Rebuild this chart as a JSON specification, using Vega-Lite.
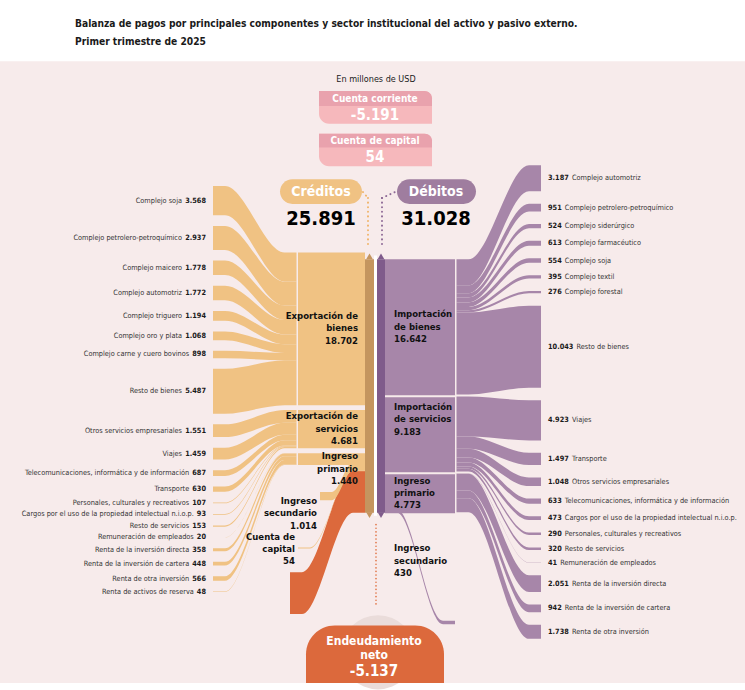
{
"$schema":"https://vega.github.io/schema/vega-lite/v6.json",
"width":745,"height":690,
"autosize":{"type":"fit","contains":"padding"},
"padding":0,
"background":"#ffffff",
"config":{"view":{"stroke":null},"text":{"font":"DejaVu Sans Condensed, sans-serif"}},
"datasets":{
"items":[
{"side":"C","grp":1,"ord":1,"name":"Complejo soja","value":3568},
{"side":"C","grp":1,"ord":2,"name":"Complejo petrolero-petroquímico","value":2937},
{"side":"C","grp":1,"ord":3,"name":"Complejo maicero","value":1778},
{"side":"C","grp":1,"ord":4,"name":"Complejo automotriz","value":1772},
{"side":"C","grp":1,"ord":5,"name":"Complejo triguero","value":1194},
{"side":"C","grp":1,"ord":6,"name":"Complejo oro y plata","value":1068},
{"side":"C","grp":1,"ord":7,"name":"Complejo carne y cuero bovinos","value":898},
{"side":"C","grp":1,"ord":8,"name":"Resto de bienes","value":5487},
{"side":"C","grp":2,"ord":9,"name":"Otros servicios empresariales","value":1551},
{"side":"C","grp":2,"ord":10,"name":"Viajes","value":1459},
{"side":"C","grp":2,"ord":11,"name":"Telecomunicaciones, informática y de información","value":687},
{"side":"C","grp":2,"ord":12,"name":"Transporte","value":630},
{"side":"C","grp":2,"ord":13,"name":"Personales, culturales y recreativos","value":107},
{"side":"C","grp":2,"ord":14,"name":"Cargos por el uso de la propiedad intelectual n.i.o.p.","value":93},
{"side":"C","grp":2,"ord":15,"name":"Resto de servicios","value":153},
{"side":"C","grp":3,"ord":16,"name":"Remuneración de empleados","value":20},
{"side":"C","grp":3,"ord":17,"name":"Renta de la inversión directa","value":358},
{"side":"C","grp":3,"ord":18,"name":"Renta de la inversión de cartera","value":448},
{"side":"C","grp":3,"ord":19,"name":"Renta de otra inversión","value":566},
{"side":"C","grp":3,"ord":20,"name":"Renta de activos de reserva","value":48},
{"side":"D","grp":1,"ord":1,"name":"Complejo automotriz","value":3187},
{"side":"D","grp":1,"ord":2,"name":"Complejo petrolero-petroquímico","value":951},
{"side":"D","grp":1,"ord":3,"name":"Complejo siderúrgico","value":524},
{"side":"D","grp":1,"ord":4,"name":"Complejo farmacéutico","value":613},
{"side":"D","grp":1,"ord":5,"name":"Complejo soja","value":554},
{"side":"D","grp":1,"ord":6,"name":"Complejo textil","value":395},
{"side":"D","grp":1,"ord":7,"name":"Complejo forestal","value":276},
{"side":"D","grp":1,"ord":8,"name":"Resto de bienes","value":10043},
{"side":"D","grp":2,"ord":9,"name":"Viajes","value":4923},
{"side":"D","grp":2,"ord":10,"name":"Transporte","value":1497},
{"side":"D","grp":2,"ord":11,"name":"Otros servicios empresariales","value":1048},
{"side":"D","grp":2,"ord":12,"name":"Telecomunicaciones, informática y de información","value":633},
{"side":"D","grp":2,"ord":13,"name":"Cargos por el uso de la propiedad intelectual n.i.o.p.","value":473},
{"side":"D","grp":2,"ord":14,"name":"Personales, culturales y recreativos","value":290},
{"side":"D","grp":2,"ord":15,"name":"Resto de servicios","value":320},
{"side":"D","grp":3,"ord":16,"name":"Remuneración de empleados","value":41},
{"side":"D","grp":3,"ord":17,"name":"Renta de la inversión directa","value":2051},
{"side":"D","grp":3,"ord":18,"name":"Renta de la inversión de cartera","value":942},
{"side":"D","grp":3,"ord":19,"name":"Renta de otra inversión","value":1738}
],
"groups":[
{"side":"C","grp":1,"name":"Exportación de bienes","lbl":"Exportación de\nbienes","value":18702},
{"side":"C","grp":2,"name":"Exportación de servicios","lbl":"Exportación de\nservicios","value":4681},
{"side":"C","grp":3,"name":"Ingreso primario","lbl":"Ingreso\nprimario","value":1440},
{"side":"C","grp":4,"name":"Ingreso secundario","lbl":"Ingreso\nsecundario","value":1014},
{"side":"C","grp":5,"name":"Cuenta de capital","lbl":"Cuenta de\ncapital","value":54},
{"side":"C","grp":6,"name":"Endeudamiento neto","lbl":"Endeudamiento\nneto","value":5137},
{"side":"D","grp":1,"name":"Importación de bienes","lbl":"Importación\nde bienes","value":16642},
{"side":"D","grp":2,"name":"Importación de servicios","lbl":"Importación\nde servicios","value":9183},
{"side":"D","grp":3,"name":"Ingreso primario","lbl":"Ingreso\nprimario","value":4773},
{"side":"D","grp":4,"name":"Ingreso secundario","lbl":"Ingreso\nsecundario","value":430}
]
},
"layer":[
{"data":{"values":[{}]},"mark":{"type":"rect","color":"#f7ebeb"},
 "encoding":{"x":{"datum":0,"type":"quantitative","scale":{"domain":[0,745],"nice":false,"zero":false},"axis":null},"x2":{"datum":745},
 "y":{"datum":62,"type":"quantitative","scale":{"domain":[0,690],"nice":false,"zero":false,"reverse":true},"axis":null},"y2":{"datum":690}}},

{"data":{"name":"items"},
 "transform":[
  {"window":[{"op":"sum","field":"value","as":"cum"},{"op":"row_number","as":"idx"}],"sort":[{"field":"ord"}],"groupby":["side"],"frame":[null,0]},
  {"window":[{"op":"sum","field":"value","as":"gcum"}],"sort":[{"field":"ord"}],"groupby":["side","grp"],"frame":[null,0]},
  {"calculate":"datum.cum - datum.value","as":"before"},
  {"joinaggregate":[{"op":"min","field":"before","as":"gbefore"}],"groupby":["side","grp"]},
  {"calculate":"datum.side == 'C' ? 188 + datum.before*0.00825 + (datum.idx-1)*10.8 : 167 + datum.before*0.00825 + (datum.idx-1)*12.6","as":"iy0"},
  {"calculate":"datum.iy0 + datum.value*0.00825","as":"iy1"},
  {"calculate":"datum.side == 'C' ? 255 + datum.gbefore*0.00825 + (datum.grp-1)*5 : 262 + datum.gbefore*0.00825 + (datum.grp-1)*2","as":"gy"},
  {"calculate":"datum.gy + (datum.gcum - datum.value)*0.00825","as":"ty0"},
  {"calculate":"datum.ty0 + datum.value*0.00825","as":"ty1"},
  {"calculate":"replace(format(datum.value, ','), ',', '.')","as":"vtxt"},
  {"calculate":"(datum.iy0 + datum.iy1)/2","as":"ly"},
  {"calculate":"datum.side + datum.ord","as":"lid"},
  {"calculate":"length(replace(datum.vtxt, '.', ''))*4.6 + (indexof(datum.vtxt, '.') >= 0 ? 2.6 : 0)","as":"vw"}
 ],
 "layer":[
  {"transform":[
    {"filter":"datum.side=='C'"},
    {"calculate":"[0,1,2,3]","as":"pts"},
    {"flatten":["pts"]},
    {"calculate":"datum.pts==0 ? 213 : datum.pts==1 ? 225 : datum.pts==2 ? 284.5 : 296.5","as":"px"},
    {"calculate":"datum.pts<2 ? datum.iy0 : datum.ty0","as":"py0"},
    {"calculate":"datum.pts<2 ? datum.iy1 : datum.ty1","as":"py1"}
   ],
   "mark":{"type":"area","interpolate":"monotone","orient":"vertical","color":"#f0c283"},
   "encoding":{
    "x":{"field":"px","type":"quantitative","scale":{"domain":[0,745],"nice":false,"zero":false},"axis":null},
    "y":{"field":"py0","type":"quantitative","scale":{"domain":[0,690],"nice":false,"zero":false,"reverse":true},"axis":null},
    "y2":{"field":"py1"},
    "detail":{"field":"lid","type":"nominal"}
   }},
  {"transform":[
    {"filter":"datum.side=='D'"},
    {"calculate":"[0,1,2,3]","as":"pts"},
    {"flatten":["pts"]},
    {"calculate":"datum.pts==0 ? 456.5 : datum.pts==1 ? 468.5 : datum.pts==2 ? 529 : 541","as":"px"},
    {"calculate":"datum.pts<2 ? datum.ty0 : datum.iy0","as":"py0"},
    {"calculate":"datum.pts<2 ? datum.ty1 : datum.iy1","as":"py1"}
   ],
   "mark":{"type":"area","interpolate":"monotone","orient":"vertical","color":"#a786a9"},
   "encoding":{
    "x":{"field":"px","type":"quantitative","scale":{"domain":[0,745],"nice":false,"zero":false},"axis":null},
    "y":{"field":"py0","type":"quantitative","scale":{"domain":[0,690],"nice":false,"zero":false,"reverse":true},"axis":null},
    "y2":{"field":"py1"},
    "detail":{"field":"lid","type":"nominal"}
   }},
  {"transform":[{"filter":"datum.side=='C'"}],
   "mark":{"type":"text","align":"right","baseline":"middle","fontSize":7.3,"fontWeight":"bold","color":"#1a1a1a"},
   "encoding":{"x":{"datum":206,"type":"quantitative","scale":{"domain":[0,745],"nice":false,"zero":false},"axis":null},
    "y":{"field":"ly","type":"quantitative","scale":{"domain":[0,690],"nice":false,"zero":false,"reverse":true},"axis":null},
    "text":{"field":"vtxt","type":"nominal"}}},
  {"transform":[{"filter":"datum.side=='C'"},{"calculate":"206 - datum.vw - 3","as":"nx"}],
   "mark":{"type":"text","align":"right","baseline":"middle","fontSize":7.3,"color":"#333333"},
   "encoding":{"x":{"field":"nx","type":"quantitative","scale":{"domain":[0,745],"nice":false,"zero":false},"axis":null},
    "y":{"field":"ly","type":"quantitative","scale":{"domain":[0,690],"nice":false,"zero":false,"reverse":true},"axis":null},
    "text":{"field":"name","type":"nominal"}}},
  {"transform":[{"filter":"datum.side=='D'"}],
   "mark":{"type":"text","align":"left","baseline":"middle","fontSize":7.3,"fontWeight":"bold","color":"#1a1a1a"},
   "encoding":{"x":{"datum":548,"type":"quantitative","scale":{"domain":[0,745],"nice":false,"zero":false},"axis":null},
    "y":{"field":"ly","type":"quantitative","scale":{"domain":[0,690],"nice":false,"zero":false,"reverse":true},"axis":null},
    "text":{"field":"vtxt","type":"nominal"}}},
  {"transform":[{"filter":"datum.side=='D'"},{"calculate":"548 + datum.vw + 3","as":"nx"}],
   "mark":{"type":"text","align":"left","baseline":"middle","fontSize":7.3,"color":"#333333"},
   "encoding":{"x":{"field":"nx","type":"quantitative","scale":{"domain":[0,745],"nice":false,"zero":false},"axis":null},
    "y":{"field":"ly","type":"quantitative","scale":{"domain":[0,690],"nice":false,"zero":false,"reverse":true},"axis":null},
    "text":{"field":"name","type":"nominal"}}}
 ]},

{"data":{"name":"groups"},
 "transform":[
  {"window":[{"op":"sum","field":"value","as":"cum"}],"sort":[{"field":"grp"}],"groupby":["side"],"frame":[null,0]},
  {"calculate":"datum.cum - datum.value","as":"before"},
  {"calculate":"datum.side=='C' ? 255 + datum.before*0.00825 + (datum.grp-1)*5 : 262 + datum.before*0.00825 + (datum.grp-1)*2","as":"gy0"},
  {"calculate":"datum.gy0 + datum.value*0.00825","as":"gy1"},
  {"calculate":"262 + datum.before*0.00825","as":"by0"},
  {"calculate":"datum.by0 + max(datum.value*0.00825, 1)","as":"by1"},
  {"calculate":"replace(format(datum.value, ','), ',', '.')","as":"vtxt"},
  {"calculate":"datum.side + datum.grp","as":"gid"},
  {"calculate":"[0,1,2,3]","as":"pts"},
  {"flatten":["pts"]},
  {"calculate":"datum.side=='C' ? (datum.grp==4 ? 320 : datum.grp==5 ? 298 : 290) : 385","as":"xa"},
  {"calculate":"datum.side=='C' ? 365 : 455","as":"xb"},
  {"calculate":"datum.side=='C' ? (datum.grp==4 ? 497 : datum.grp==5 ? 553 : 578) : datum.by0","as":"ya0"},
  {"calculate":"datum.side=='C' ? datum.ya0 + max(datum.value*0.00825, 1) : datum.by1","as":"ya1"},
  {"calculate":"datum.side=='C' ? datum.by0 : 627","as":"yb0"},
  {"calculate":"datum.side=='C' ? datum.by1 : 627 + datum.value*0.00825","as":"yb1"},
  {"calculate":"datum.pts==0 ? datum.xa : datum.pts==1 ? datum.xa+12 : datum.pts==2 ? datum.xb-12 : datum.xb","as":"px"},
  {"calculate":"datum.pts<2 ? datum.ya0 : datum.yb0","as":"py0"},
  {"calculate":"datum.pts<2 ? datum.ya1 : datum.yb1","as":"py1"}
 ],
 "layer":[
  {"transform":[{"filter":"datum.side=='C' && datum.grp==6"}],
   "mark":{"type":"area","interpolate":"monotone","orient":"vertical","color":"#dc693c"},
   "encoding":{"x":{"field":"px","type":"quantitative","scale":{"domain":[0,745],"nice":false,"zero":false},"axis":null},
    "y":{"field":"py0","type":"quantitative","scale":{"domain":[0,690],"nice":false,"zero":false,"reverse":true},"axis":null},
    "y2":{"field":"py1"},"detail":{"field":"gid","type":"nominal"}}},
  {"transform":[{"filter":"datum.side=='C' && datum.grp>=4 && datum.grp<=5"}],
   "mark":{"type":"area","interpolate":"monotone","orient":"vertical","color":"#f0c283"},
   "encoding":{"x":{"field":"px","type":"quantitative","scale":{"domain":[0,745],"nice":false,"zero":false},"axis":null},
    "y":{"field":"py0","type":"quantitative","scale":{"domain":[0,690],"nice":false,"zero":false,"reverse":true},"axis":null},
    "y2":{"field":"py1"},"detail":{"field":"gid","type":"nominal"}}},
  {"transform":[{"filter":"datum.side=='D' && datum.grp==4"}],
   "mark":{"type":"area","interpolate":"monotone","orient":"vertical","color":"#a786a9"},
   "encoding":{"x":{"field":"px","type":"quantitative","scale":{"domain":[0,745],"nice":false,"zero":false},"axis":null},
    "y":{"field":"py0","type":"quantitative","scale":{"domain":[0,690],"nice":false,"zero":false,"reverse":true},"axis":null},
    "y2":{"field":"py1"},"detail":{"field":"gid","type":"nominal"}}},
  {"transform":[{"filter":"datum.grp <= 3 && datum.pts == 0"},
    {"calculate":"datum.side=='C' ? 298 : 385","as":"bx0"},{"calculate":"datum.side=='C' ? 365 : 455","as":"bx1"}],
   "mark":{"type":"rect"},
   "encoding":{"x":{"field":"bx0","type":"quantitative","scale":{"domain":[0,745],"nice":false,"zero":false},"axis":null},"x2":{"field":"bx1"},
    "y":{"field":"gy0","type":"quantitative","scale":{"domain":[0,690],"nice":false,"zero":false,"reverse":true},"axis":null},"y2":{"field":"gy1"},
    "color":{"condition":{"test":"datum.side=='D'","value":"#a786a9"},"value":"#f0c283"}}},
  {"transform":[{"filter":"datum.side=='C' && datum.grp<=5 && datum.pts==0"},
    {"calculate":"datum.grp<=3 ? 358 : datum.grp==4 ? 317 : 295","as":"lx"},
    {"calculate":"datum.grp<=3 ? max(datum.gy0 + (datum.gy1-datum.gy0)/2 - 18, datum.gy0 - 2) : datum.grp==4 ? 501 : 537","as":"lyt"},
    {"calculate":"datum.lbl + '\\n' + datum.vtxt","as":"ltxt"}],
   "mark":{"type":"text","align":"right","baseline":"top","fontSize":9.5,"fontWeight":"bold","color":"#111111","lineBreak":"\n","lineHeight":12.3},
   "encoding":{"x":{"field":"lx","type":"quantitative","scale":{"domain":[0,745],"nice":false,"zero":false},"axis":null},
    "y":{"field":"lyt","type":"quantitative","scale":{"domain":[0,690],"nice":false,"zero":false,"reverse":true},"axis":null},
    "text":{"field":"ltxt","type":"nominal"}}},
  {"transform":[{"filter":"datum.side=='D' && datum.pts==0"},
    {"calculate":"datum.grp==2 ? datum.gy0 + 5 : datum.grp<=3 ? datum.gy0 + (datum.gy1-datum.gy0)/2 - 18 : 549","as":"lyt"},
    {"calculate":"datum.lbl + '\\n' + datum.vtxt","as":"ltxt"}],
   "mark":{"type":"text","align":"left","baseline":"top","fontSize":9.5,"fontWeight":"bold","color":"#111111","lineBreak":"\n","lineHeight":12.3},
   "encoding":{"x":{"datum":394,"type":"quantitative","scale":{"domain":[0,745],"nice":false,"zero":false},"axis":null},
    "y":{"field":"lyt","type":"quantitative","scale":{"domain":[0,690],"nice":false,"zero":false,"reverse":true},"axis":null},
    "text":{"field":"ltxt","type":"nominal"}}}
 ]},

{"data":{"name":"groups"},
 "transform":[{"aggregate":[{"op":"sum","field":"value","as":"tot"}],"groupby":["side"]},
  {"calculate":"datum.side=='C' ? 365 : 377","as":"x0"},{"calculate":"datum.side=='C' ? 374 : 385","as":"x1"},
  {"calculate":"262","as":"y0"},
  {"calculate":"262 + datum.tot*0.00825","as":"y1"}],
 "mark":{"type":"rect"},
 "encoding":{"x":{"field":"x0","type":"quantitative","scale":{"domain":[0,745],"nice":false,"zero":false},"axis":null},"x2":{"field":"x1"},
  "y":{"field":"y0","type":"quantitative","scale":{"domain":[0,690],"nice":false,"zero":false,"reverse":true},"axis":null},"y2":{"field":"y1"},
  "color":{"condition":{"test":"datum.side=='D'","value":"#7f5b8b"},"value":"#c4955f"}}},
{"data":{"values":[{}]},"mark":{"type":"rect","color":"#ffffff"},
 "encoding":{"x":{"datum":374,"type":"quantitative","scale":{"domain":[0,745],"nice":false,"zero":false},"axis":null},"x2":{"datum":377},
  "y":{"datum":258,"type":"quantitative","scale":{"domain":[0,690],"nice":false,"zero":false,"reverse":true},"axis":null},"y2":{"datum":521}}},

{"data":{"values":[{}]},"mark":{"type":"point","shape":"triangle-up","filled":true,"opacity":1,"size":45,"color":"#c4955f"},
 "encoding":{"x":{"datum":369.5,"type":"quantitative","scale":{"domain":[0,745],"nice":false,"zero":false},"axis":null},
  "y":{"datum":259,"type":"quantitative","scale":{"domain":[0,690],"nice":false,"zero":false,"reverse":true},"axis":null}}},
{"data":{"values":[{}]},"mark":{"type":"point","shape":"triangle-up","filled":true,"opacity":1,"size":45,"color":"#7f5b8b"},
 "encoding":{"x":{"datum":381,"type":"quantitative","scale":{"domain":[0,745],"nice":false,"zero":false},"axis":null},
  "y":{"datum":259,"type":"quantitative","scale":{"domain":[0,690],"nice":false,"zero":false,"reverse":true},"axis":null}}},
{"data":{"values":[{}]},"mark":{"type":"point","shape":"triangle-down","filled":true,"opacity":1,"size":45,"color":"#c4955f"},
 "encoding":{"x":{"datum":369.5,"type":"quantitative","scale":{"domain":[0,745],"nice":false,"zero":false},"axis":null},
  "y":{"datum":520.5,"type":"quantitative","scale":{"domain":[0,690],"nice":false,"zero":false,"reverse":true},"axis":null}}},
{"data":{"values":[{}]},"mark":{"type":"point","shape":"triangle-down","filled":true,"opacity":1,"size":45,"color":"#7f5b8b"},
 "encoding":{"x":{"datum":381,"type":"quantitative","scale":{"domain":[0,745],"nice":false,"zero":false},"axis":null},
  "y":{"datum":520.5,"type":"quantitative","scale":{"domain":[0,690],"nice":false,"zero":false,"reverse":true},"axis":null}}},

{"data":{"values":[{}]},"mark":{"type":"rule","color":"#f0b46a","strokeWidth":2,"strokeDash":[0.1,4.5],"strokeCap":"round"},
 "encoding":{"x":{"datum":368,"type":"quantitative","scale":{"domain":[0,745],"nice":false,"zero":false},"axis":null},
  "y":{"datum":200,"type":"quantitative","scale":{"domain":[0,690],"nice":false,"zero":false,"reverse":true},"axis":null},"y2":{"datum":250}}},
{"data":{"values":[{}]},"mark":{"type":"rule","color":"#f0b46a","strokeWidth":2,"strokeDash":[0.1,4.5],"strokeCap":"round"},
 "encoding":{"x":{"datum":363,"type":"quantitative","scale":{"domain":[0,745],"nice":false,"zero":false},"axis":null},"x2":{"datum":368},
  "y":{"datum":194,"type":"quantitative","scale":{"domain":[0,690],"nice":false,"zero":false,"reverse":true},"axis":null},"y2":{"datum":200}}},
{"data":{"values":[{}]},"mark":{"type":"rule","color":"#8e6a96","strokeWidth":2,"strokeDash":[0.1,4.5],"strokeCap":"round"},
 "encoding":{"x":{"datum":382,"type":"quantitative","scale":{"domain":[0,745],"nice":false,"zero":false},"axis":null},
  "y":{"datum":200,"type":"quantitative","scale":{"domain":[0,690],"nice":false,"zero":false,"reverse":true},"axis":null},"y2":{"datum":250}}},
{"data":{"values":[{}]},"mark":{"type":"rule","color":"#8e6a96","strokeWidth":2,"strokeDash":[0.1,4.5],"strokeCap":"round"},
 "encoding":{"x":{"datum":382,"type":"quantitative","scale":{"domain":[0,745],"nice":false,"zero":false},"axis":null},"x2":{"datum":395},
  "y":{"datum":200,"type":"quantitative","scale":{"domain":[0,690],"nice":false,"zero":false,"reverse":true},"axis":null},"y2":{"datum":194}}},
{"data":{"values":[{}]},"mark":{"type":"rule","color":"#e07040","strokeWidth":1.6,"strokeDash":[0.1,3.5],"strokeCap":"round"},
 "encoding":{"x":{"datum":376,"type":"quantitative","scale":{"domain":[0,745],"nice":false,"zero":false},"axis":null},
  "y":{"datum":530,"type":"quantitative","scale":{"domain":[0,690],"nice":false,"zero":false,"reverse":true},"axis":null},"y2":{"datum":613}}},

{"data":{"values":[{}]},"mark":{"type":"rect","color":"#f0c283","cornerRadius":13},
 "encoding":{"x":{"datum":280,"type":"quantitative","scale":{"domain":[0,745],"nice":false,"zero":false},"axis":null},"x2":{"datum":362},
  "y":{"datum":181,"type":"quantitative","scale":{"domain":[0,690],"nice":false,"zero":false,"reverse":true},"axis":null},"y2":{"datum":206}}},
{"data":{"values":[{}]},"mark":{"type":"rect","color":"#9f7d9f","cornerRadius":13},
 "encoding":{"x":{"datum":397,"type":"quantitative","scale":{"domain":[0,745],"nice":false,"zero":false},"axis":null},"x2":{"datum":476},
  "y":{"datum":181,"type":"quantitative","scale":{"domain":[0,690],"nice":false,"zero":false,"reverse":true},"axis":null},"y2":{"datum":206}}},

{"data":{"values":[{}]},"mark":{"type":"rect","color":"#f6b8bc","cornerRadiusBottomLeft":10,"cornerRadiusTopRight":8},
 "encoding":{"x":{"datum":319,"type":"quantitative","scale":{"domain":[0,745],"nice":false,"zero":false},"axis":null},"x2":{"datum":432},
  "y":{"datum":92,"type":"quantitative","scale":{"domain":[0,690],"nice":false,"zero":false,"reverse":true},"axis":null},"y2":{"datum":125}}},
{"data":{"values":[{}]},"mark":{"type":"rect","color":"#e9a2ad","cornerRadiusTopRight":10},
 "encoding":{"x":{"datum":319,"type":"quantitative","scale":{"domain":[0,745],"nice":false,"zero":false},"axis":null},"x2":{"datum":432},
  "y":{"datum":92,"type":"quantitative","scale":{"domain":[0,690],"nice":false,"zero":false,"reverse":true},"axis":null},"y2":{"datum":107}}},
{"data":{"values":[{}]},"mark":{"type":"rect","color":"#f6b8bc","cornerRadiusBottomLeft":10,"cornerRadiusTopRight":8},
 "encoding":{"x":{"datum":319,"type":"quantitative","scale":{"domain":[0,745],"nice":false,"zero":false},"axis":null},"x2":{"datum":432},
  "y":{"datum":135,"type":"quantitative","scale":{"domain":[0,690],"nice":false,"zero":false,"reverse":true},"axis":null},"y2":{"datum":168}}},
{"data":{"values":[{}]},"mark":{"type":"rect","color":"#e9a2ad","cornerRadiusTopRight":10},
 "encoding":{"x":{"datum":319,"type":"quantitative","scale":{"domain":[0,745],"nice":false,"zero":false},"axis":null},"x2":{"datum":432},
  "y":{"datum":135,"type":"quantitative","scale":{"domain":[0,690],"nice":false,"zero":false,"reverse":true},"axis":null},"y2":{"datum":149}}},

{"data":{"values":[{}]},"mark":{"type":"point","shape":"circle","filled":true,"opacity":1,"color":"#eadcda","size":5500},
 "encoding":{"x":{"datum":378,"type":"quantitative","scale":{"domain":[0,745],"nice":false,"zero":false},"axis":null},
  "y":{"datum":659,"type":"quantitative","scale":{"domain":[0,690],"nice":false,"zero":false,"reverse":true},"axis":null}}},
{"data":{"values":[{}]},"mark":{"type":"rect","color":"#dc693c","cornerRadiusTopLeft":34,"cornerRadiusTopRight":34},
 "encoding":{"x":{"datum":306,"type":"quantitative","scale":{"domain":[0,745],"nice":false,"zero":false},"axis":null},"x2":{"datum":444},
  "y":{"datum":632,"type":"quantitative","scale":{"domain":[0,690],"nice":false,"zero":false,"reverse":true},"axis":null},"y2":{"datum":690}}},

{"data":{"values":[{"t":"Balanza de pagos por principales componentes y sector institucional del activo y pasivo externo.","y":24},{"t":"Primer trimestre de 2025","y":42}]},
 "mark":{"type":"text","align":"left","baseline":"middle","fontSize":10.2,"fontWeight":"bold","color":"#1a1a1a"},
 "encoding":{"x":{"datum":75,"type":"quantitative","scale":{"domain":[0,745],"nice":false,"zero":false},"axis":null},
  "y":{"field":"y","type":"quantitative","scale":{"domain":[0,690],"nice":false,"zero":false,"reverse":true},"axis":null},"text":{"field":"t","type":"nominal"}}},
{"data":{"values":[{"t":"En millones de USD"}]},
 "mark":{"type":"text","align":"center","baseline":"middle","fontSize":9,"color":"#1a1a1a"},
 "encoding":{"x":{"datum":376,"type":"quantitative","scale":{"domain":[0,745],"nice":false,"zero":false},"axis":null},
  "y":{"datum":80,"type":"quantitative","scale":{"domain":[0,690],"nice":false,"zero":false,"reverse":true},"axis":null},"text":{"field":"t","type":"nominal"}}},
{"data":{"values":[{"t":"Cuenta corriente","y":100,"s":10},{"t":"-5.191","y":116.5,"s":15},{"t":"Cuenta de capital","y":142.5,"s":10},{"t":"54","y":159,"s":15}]},
 "mark":{"type":"text","align":"center","baseline":"middle","fontWeight":"bold","color":"#ffffff"},
 "encoding":{"x":{"datum":375,"type":"quantitative","scale":{"domain":[0,745],"nice":false,"zero":false},"axis":null},
  "y":{"field":"y","type":"quantitative","scale":{"domain":[0,690],"nice":false,"zero":false,"reverse":true},"axis":null},
  "size":{"field":"s","type":"quantitative","scale":null},"text":{"field":"t","type":"nominal"}}},
{"data":{"values":[{"t":"Créditos"}]},
 "mark":{"type":"text","align":"center","baseline":"middle","fontSize":14,"fontWeight":"bold","color":"#ffffff"},
 "encoding":{"x":{"datum":321,"type":"quantitative","scale":{"domain":[0,745],"nice":false,"zero":false},"axis":null},
  "y":{"datum":194,"type":"quantitative","scale":{"domain":[0,690],"nice":false,"zero":false,"reverse":true},"axis":null},"text":{"field":"t","type":"nominal"}}},
{"data":{"values":[{"t":"Débitos"}]},
 "mark":{"type":"text","align":"center","baseline":"middle","fontSize":14,"fontWeight":"bold","color":"#ffffff"},
 "encoding":{"x":{"datum":436,"type":"quantitative","scale":{"domain":[0,745],"nice":false,"zero":false},"axis":null},
  "y":{"datum":194,"type":"quantitative","scale":{"domain":[0,690],"nice":false,"zero":false,"reverse":true},"axis":null},"text":{"field":"t","type":"nominal"}}},
{"data":{"values":[{"t":"25.891"}]},
 "mark":{"type":"text","align":"center","baseline":"middle","fontSize":20,"fontWeight":"bold","color":"#000000"},
 "encoding":{"x":{"datum":321,"type":"quantitative","scale":{"domain":[0,745],"nice":false,"zero":false},"axis":null},
  "y":{"datum":221,"type":"quantitative","scale":{"domain":[0,690],"nice":false,"zero":false,"reverse":true},"axis":null},"text":{"field":"t","type":"nominal"}}},
{"data":{"values":[{"t":"31.028"}]},
 "mark":{"type":"text","align":"center","baseline":"middle","fontSize":20,"fontWeight":"bold","color":"#000000"},
 "encoding":{"x":{"datum":436,"type":"quantitative","scale":{"domain":[0,745],"nice":false,"zero":false},"axis":null},
  "y":{"datum":221,"type":"quantitative","scale":{"domain":[0,690],"nice":false,"zero":false,"reverse":true},"axis":null},"text":{"field":"t","type":"nominal"}}},
{"data":{"values":[{"t":"Endeudamiento","y":648,"s":12},{"t":"neto","y":662,"s":12},{"t":"-5.137","y":678,"s":15}]},
 "mark":{"type":"text","align":"center","baseline":"middle","fontWeight":"bold","color":"#ffffff"},
 "encoding":{"x":{"datum":374,"type":"quantitative","scale":{"domain":[0,745],"nice":false,"zero":false},"axis":null},
  "y":{"field":"y","type":"quantitative","scale":{"domain":[0,690],"nice":false,"zero":false,"reverse":true},"axis":null},
  "size":{"field":"s","type":"quantitative","scale":null},"text":{"field":"t","type":"nominal"}}}
]
}
